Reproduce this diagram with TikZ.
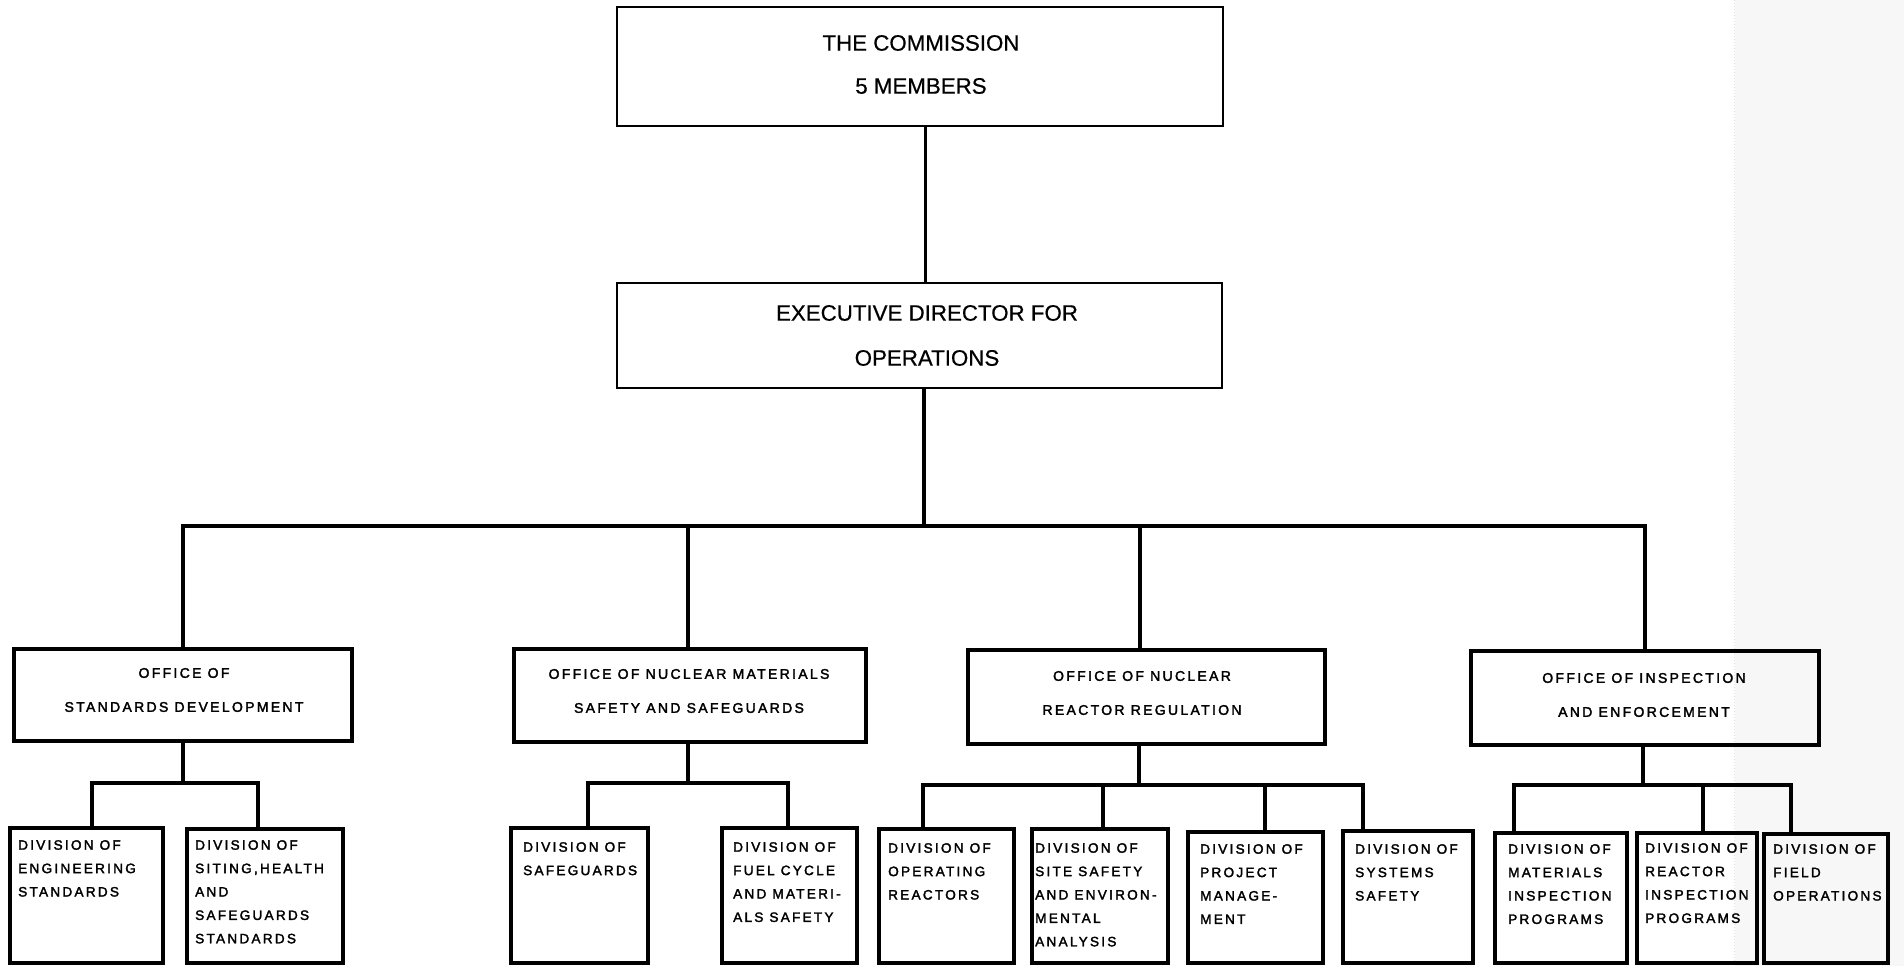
\documentclass[tikz,border=0pt]{standalone}
\usepackage{fontspec}
\setmainfont{Liberation Sans}
\newfontfamily\headfont[FakeBold=0.6]{Liberation Sans}
\newfontfamily\unitfont[LetterSpace=16.5,FakeBold=2.2]{Liberation Sans}
% box from top-left (x1,y1) to bottom-right (x2,y2): style, name, x1, y1, x2, y2
\newcommand\orgbox[6]{\node[#1, minimum width={#5-#3}, minimum height={#6-#4}] (#2) at (#3,#4) {};}
\tikzset{
  headbox/.style={draw, line width=2.2pt, inner sep=0pt, outer sep=0pt, anchor=north west},
  unitbox/.style={draw, line width=3.3pt, inner sep=0pt, outer sep=0pt, anchor=north west},
  headlink/.style={line width=3pt},
  link/.style={line width=4pt},
  headtxt/.style={font=\headfont\fontsize{22.3}{43}\selectfont, align=center, inner sep=0pt},
  officetxt/.style={font=\unitfont\fontsize{14}{34}\selectfont, align=center, inner sep=0pt},
  divtxt/.style={font=\unitfont\fontsize{13.6}{23.4}\selectfont, align=left, inner sep=0pt, anchor=north west},
}
\begin{document}
\begin{tikzpicture}[x=1pt,y=-1pt]
\useasboundingbox (0,0) rectangle (1904,966);
% greyish paper tone along the right edge
\fill[black!3] (1735,0) rectangle (1904,966);
\draw[black!12, line width=1pt, dotted] (1734,0) -- (1734,966);

% top level
\orgbox{headbox}{com}{617}{7}{1223}{126}
\orgbox{headbox}{exec}{617}{283}{1222}{388}
\node[headtxt] (com-t) at (921,64.5) {THE COMMISSION\\5 MEMBERS};
\node[headtxt, font=\headfont\fontsize{22.3}{45}\selectfont] (exec-t) at (927,335.5) {EXECUTIVE DIRECTOR FOR\\OPERATIONS};

% offices
\orgbox{unitbox}{sd}{14}{649}{352}{741}
\orgbox{unitbox}{nmss}{514}{649}{866}{742}
\orgbox{unitbox}{nrr}{968}{650}{1325}{744}
\orgbox{unitbox}{oie}{1471}{651}{1819}{745}
\node[officetxt] (sd-t) at (184,690) {OFFICE OF\\STANDARDS DEVELOPMENT};
\node[officetxt] (nmss-t) at (689,691) {OFFICE OF NUCLEAR MATERIALS\\SAFETY AND SAFEGUARDS};
\node[officetxt] (nrr-t) at (1142,693) {OFFICE OF NUCLEAR\\REACTOR REGULATION};
\node[officetxt] (oie-t) at (1644,695) {OFFICE OF INSPECTION\\AND ENFORCEMENT};

% divisions
\orgbox{unitbox}{eng}{10}{828}{163}{963}
\orgbox{unitbox}{sit}{187}{829}{343}{963}
\orgbox{unitbox}{safe}{511}{828}{648}{963}
\orgbox{unitbox}{fuel}{722}{828}{857}{963}
\orgbox{unitbox}{op}{879}{829}{1014}{963}
\orgbox{unitbox}{site}{1032}{829}{1168}{963}
\orgbox{unitbox}{proj}{1188}{832}{1323}{963}
\orgbox{unitbox}{sys}{1343}{831}{1473}{963}
\orgbox{unitbox}{mat}{1495}{833}{1627}{963}
\orgbox{unitbox}{rea}{1637}{833}{1757}{963}
\orgbox{unitbox}{fld}{1764}{834}{1888}{963}

\node[divtxt] (eng-t) at (18,840) {DIVISION OF\\ENGINEERING\\STANDARDS};
\node[divtxt] (sit-t) at (195,840) {DIVISION OF\\SITING,HEALTH\\AND\\SAFEGUARDS\\STANDARDS};
\node[divtxt] (safe-t) at (523,842) {DIVISION OF\\SAFEGUARDS};
\node[divtxt] (fuel-t) at (733,842) {DIVISION OF\\FUEL CYCLE\\AND MATERI-\\ALS SAFETY};
\node[divtxt] (op-t) at (888,843) {DIVISION OF\\OPERATING\\REACTORS};
\node[divtxt] (site-t) at (1035,843) {DIVISION OF\\SITE SAFETY\\AND ENVIRON-\\MENTAL\\ANALYSIS};
\node[divtxt] (proj-t) at (1200,844) {DIVISION OF\\PROJECT\\MANAGE-\\MENT};
\node[divtxt] (sys-t) at (1355,844) {DIVISION OF\\SYSTEMS\\SAFETY};
\node[divtxt] (mat-t) at (1508,844) {DIVISION OF\\MATERIALS\\INSPECTION\\PROGRAMS};
\node[divtxt] (rea-t) at (1645,843) {DIVISION OF\\REACTOR\\INSPECTION\\PROGRAMS};
\node[divtxt] (fld-t) at (1773,844) {DIVISION OF\\FIELD\\OPERATIONS};

% commission to executive director
\draw[headlink] ([xshift=5pt]com.south) -- ([xshift=5pt]com.south |- exec.north);

% executive director to the four offices
\coordinate (bus) at (924,526);
\draw[link] ([xshift=4.5pt]exec.south) -- (bus);
\draw[link] (sd.north) |- (bus) -| (oie.north);
\draw[link] ([xshift=-2pt]nmss.north) -- ([xshift=-2pt]nmss.north |- bus);
\draw[link] ([xshift=-6.5pt]nrr.north) -- ([xshift=-6.5pt]nrr.north |- bus);

% standards development
\coordinate (sdbus) at (183,783);
\draw[link] (sd.south) -- (sdbus);
\draw[link] ([xshift=5.5pt]eng.north) |- (sdbus) -| ([xshift=-7pt]sit.north);

% nuclear materials safety and safeguards
\coordinate (nmbus) at (688,783);
\draw[link] ([xshift=-2pt]nmss.south) -- (nmbus);
\draw[link] ([xshift=8.5pt]safe.north) |- (nmbus) -| ([xshift=-1.5pt]fuel.north);

% nuclear reactor regulation
\coordinate (nrbus) at (1139,785);
\draw[link] ([xshift=-7.5pt]nrr.south) -- (nrbus);
\draw[link] ([xshift=-23.5pt]op.north) |- (nrbus) -| ([xshift=-45pt]sys.north);
\draw[link] ([xshift=3pt]site.north) -- ([xshift=3pt]site.north |- nrbus);
\draw[link] ([xshift=9.5pt]proj.north) -- ([xshift=9.5pt]proj.north |- nrbus);

% inspection and enforcement
\coordinate (oibus) at (1643,785);
\draw[link] ([xshift=-2pt]oie.south) -- (oibus);
\draw[link] ([xshift=-47pt]mat.north) |- (oibus) -| ([xshift=-35pt]fld.north);
\draw[link] ([xshift=6pt]rea.north) -- ([xshift=6pt]rea.north |- oibus);
\end{tikzpicture}
\end{document}
